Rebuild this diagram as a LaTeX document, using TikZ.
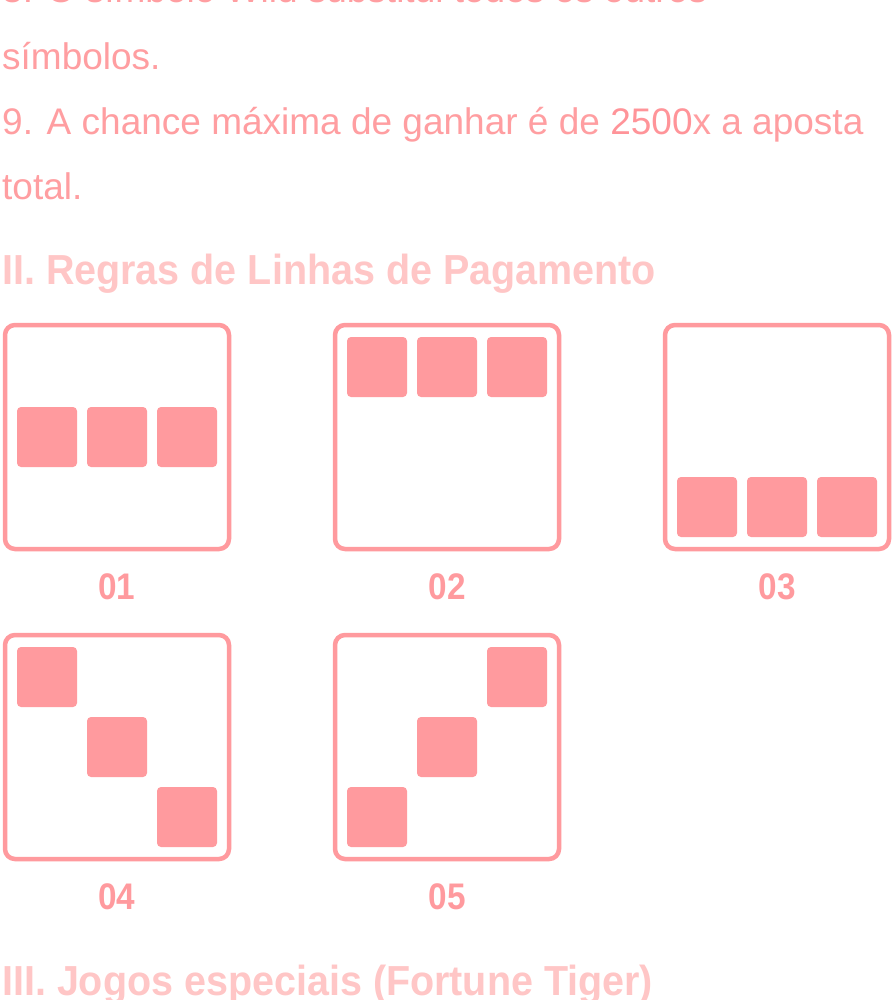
\documentclass[tikz,border=0pt]{standalone}
\usepackage{fontspec}
\setmainfont{Liberation Sans}
\newfontfamily\headfont{Liberation Sans}[FakeStretch=0.94]
\newfontfamily\labelfont{Liberation Sans}[FakeStretch=0.9]
\definecolor{pinkline}{RGB}{255,154,158}
\definecolor{pinktext}{RGB}{255,158,161}
\definecolor{pinknum}{RGB}{255,148,153}
\definecolor{pinkhead}{RGB}{255,198,198}
\begin{document}
\begin{tikzpicture}[x=1pt,y=-1pt,
  body/.style={anchor=base west,inner sep=0pt,text=pinktext,font=\fontsize{37}{37}\selectfont},
  head/.style={anchor=base west,inner sep=0pt,text=pinkhead,font=\fontsize{42}{42}\selectfont\headfont\bfseries},
  frame/.style={draw=pinkline,line width=4.5pt,rounded corners=10pt,minimum size=224pt,inner sep=0pt},
  cell/.style={fill=pinkline,rounded corners=4pt,minimum size=60pt,inner sep=0pt},
  lbl/.style={anchor=base,inner sep=0pt,text=pinkline,font=\fontsize{37}{37}\selectfont\labelfont\bfseries}]
\useasboundingbox (0,0) rectangle (893,1000);
\fill[white] (0,0) rectangle (893,1000);
% text
\node[body] (t8) at (2,3) {8. O símbolo Wild substitui todos os outros};
\node[body] (t8b) at (2,70) {símbolos.};
\node[body] (t9) at (2,135) {9. A chance máxima de ganhar é de \textcolor{pinknum}{2500}x a aposta};
\node[body] (t9b) at (2,200) {total.};
\node[head] (h2) at (2,284) {II. Regras de Linhas de Pagamento};
% frames
\node[frame] (b1) at (117,437) {};
\node[frame] (b2) at (447,437) {};
\node[frame] (b3) at (777,437) {};
\node[frame] (b4) at (117,747) {};
\node[frame] (b5) at (447,747) {};
% cells
\node[cell] (c11) at (47,437) {};
\node[cell] (c12) at (117,437) {};
\node[cell] (c13) at (187,437) {};
\node[cell] (c21) at (377,367) {};
\node[cell] (c22) at (447,367) {};
\node[cell] (c23) at (517,367) {};
\node[cell] (c31) at (707,507) {};
\node[cell] (c32) at (777,507) {};
\node[cell] (c33) at (847,507) {};
\node[cell] (c41) at (47,677) {};
\node[cell] (c42) at (117,747) {};
\node[cell] (c43) at (187,817) {};
\node[cell] (c51) at (517,677) {};
\node[cell] (c52) at (447,747) {};
\node[cell] (c53) at (377,817) {};
% labels
\node[lbl] (l1) at (117,599) {01};
\node[lbl] (l2) at (447,599) {02};
\node[lbl] (l3) at (777,599) {03};
\node[lbl] (l4) at (117,909) {04};
\node[lbl] (l5) at (447,909) {05};
\node[head] (h3) at (2,995) {III. Jogos especiais (Fortune Tiger)};
\end{tikzpicture}
\end{document}
